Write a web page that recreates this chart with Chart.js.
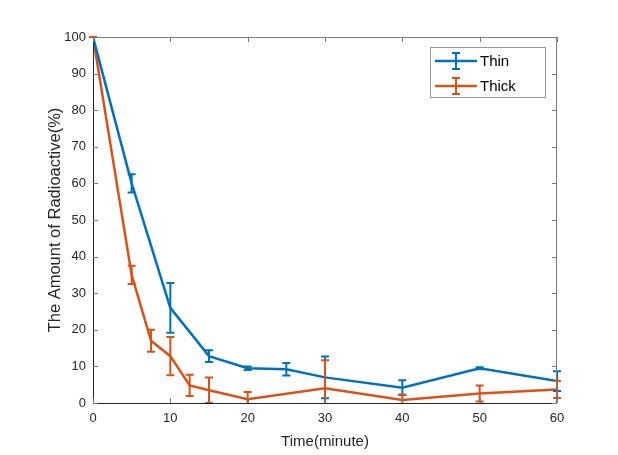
<!DOCTYPE html>
<html>
<head>
<meta charset="utf-8">
<script src="https://cdn.jsdelivr.net/npm/chart.js@4/dist/chart.umd.min.js"></script>
<style>
  html, body { margin: 0; padding: 0; background: #fff; }
  #wrap { width: 618px; height: 455px; }
</style>
</head>
<body>
<div id="wrap"><canvas id="chart" width="618" height="455"></canvas></div>
<script>
"use strict";

//=> Data
var thinTime = [0, 5, 10, 15, 20, 25, 30, 40, 50, 60];
var thinMean = [100, 60, 26, 12.8, 9.5, 9.2, 7, 4.2, 9.5, 6];
var thinErr = [0, 2.5, 6.8, 1.6, 0.5, 1.7, 5.7, 2, 0.3, 2.7];

var thickTime = [0, 5, 7.5, 10, 12.5, 15, 20, 30, 40, 50, 60];
var thickMean = [100, 35, 17, 12.8, 4.8, 3.5, 1, 4, 0.8, 2.6, 3.7];
var thickErr = [0, 2.5, 3, 5.2, 2.9, 3.5, 2, 7.7, 1.5, 2.2, 2.3];

var xTicks = [0, 10, 20, 30, 40, 50, 60];
var yTicks = [0, 10, 20, 30, 40, 50, 60, 70, 80, 90, 100];

var seriesNames = ['Thin', 'Thick'];
var blue = '#0072BD';
var orange = '#D95319';
var font = '"Liberation Sans", Arial, sans-serif';

function toPoints(xs, ys, es) {
    return xs.map(function (x, i) { return { x: x, y: ys[i], err: es[i] }; });
}

//=> Error bars, inward ticks, box, legend
var matlabPlugin = {
    id: 'matlab',
    afterDatasetsDraw: function (chart) {
        var ctx = chart.ctx, xs = chart.scales.x, ys = chart.scales.y, a = chart.chartArea;
        ctx.save();
        ctx.beginPath();
        ctx.rect(a.left - 5, a.top - 5, a.right - a.left + 10, a.bottom - a.top + 5);
        ctx.clip();
        chart.data.datasets.forEach(function (ds) {
            ctx.strokeStyle = ds.borderColor;
            ctx.lineWidth = 2;
            ds.data.forEach(function (p) {
                var px = xs.getPixelForValue(p.x);
                var top = ys.getPixelForValue(p.y + p.err);
                var bot = ys.getPixelForValue(p.y - p.err);
                ctx.beginPath();
                ctx.moveTo(px, top); ctx.lineTo(px, bot);
                ctx.moveTo(px - 4, top); ctx.lineTo(px + 4, top);
                ctx.moveTo(px - 4, bot); ctx.lineTo(px + 4, bot);
                ctx.stroke();
            });
        });
        ctx.restore();
    },
    afterDraw: function (chart) {
        var ctx = chart.ctx, xs = chart.scales.x, ys = chart.scales.y, a = chart.chartArea;
        ctx.save();
        ctx.lineWidth = 1;
        // box
        ctx.strokeStyle = '#262626';
        ctx.beginPath();
        ctx.moveTo(a.left + 0.5, a.top); ctx.lineTo(a.left + 0.5, a.bottom + 0.5); ctx.lineTo(a.right, a.bottom + 0.5);
        ctx.stroke();
        ctx.strokeStyle = '#7a7a7a';
        ctx.beginPath();
        ctx.moveTo(a.left, a.top + 0.5); ctx.lineTo(a.right - 0.5, a.top + 0.5); ctx.lineTo(a.right - 0.5, a.bottom);
        ctx.stroke();
        // inward ticks
        ctx.beginPath();
        xTicks.forEach(function (v) {
            var px = Math.round(xs.getPixelForValue(v)) + 0.5;
            ctx.moveTo(px, a.bottom); ctx.lineTo(px, a.bottom - 5);
            ctx.moveTo(px, a.top); ctx.lineTo(px, a.top + 5);
        });
        yTicks.forEach(function (v) {
            var py = Math.round(ys.getPixelForValue(v)) + 0.5;
            ctx.moveTo(a.left, py); ctx.lineTo(a.left + 5, py);
            ctx.moveTo(a.right, py); ctx.lineTo(a.right - 5, py);
        });
        ctx.stroke();
        // legend
        var lx = 430, ly = 47, lw = 115, lh = 50;
        ctx.fillStyle = '#fff';
        ctx.fillRect(lx, ly, lw, lh);
        ctx.strokeStyle = '#9a9a9a';
        ctx.strokeRect(lx + 0.5, ly + 0.5, lw, lh);
        chart.data.datasets.forEach(function (ds, i) {
            var cy = ly + 14 + i * 25;
            ctx.strokeStyle = ds.borderColor;
            ctx.lineWidth = 2.5;
            ctx.beginPath();
            ctx.moveTo(lx + 5, cy); ctx.lineTo(lx + 47, cy);
            ctx.stroke();
            ctx.lineWidth = 2;
            ctx.beginPath();
            ctx.moveTo(lx + 26, cy - 8); ctx.lineTo(lx + 26, cy + 8);
            ctx.moveTo(lx + 22, cy - 8); ctx.lineTo(lx + 30, cy - 8);
            ctx.moveTo(lx + 22, cy + 8); ctx.lineTo(lx + 30, cy + 8);
            ctx.stroke();
            ctx.fillStyle = '#000';
            ctx.font = '15px ' + font;
            ctx.textBaseline = 'middle';
            ctx.textAlign = 'left';
            ctx.fillText(ds.label, lx + 50, cy + 1);
        });
        ctx.restore();
    }
};

//=> Chart
var ctx = document.getElementById('chart').getContext('2d');
var myChart = new Chart(ctx, {
    type: 'line',
    data: {
        datasets: [{
            label: seriesNames[0],
            data: toPoints(thinTime, thinMean, thinErr),
            borderColor: blue,
            backgroundColor: blue,
            borderWidth: 2.5,
            pointRadius: 0,
            tension: 0
        }, {
            label: seriesNames[1],
            data: toPoints(thickTime, thickMean, thickErr),
            borderColor: orange,
            backgroundColor: orange,
            borderWidth: 2.5,
            pointRadius: 0,
            tension: 0
        }]
    },
    options: {
        responsive: false,
        animation: false,
        parsing: false,
        layout: { padding: { left: 42, top: 37, right: 61, bottom: 0 } },
        plugins: {
            legend: { display: false },
            tooltip: { enabled: false }
        },
        scales: {
            x: {
                type: 'linear',
                min: 0, max: 60,
                afterBuildTicks: function (s) { s.ticks = xTicks.map(function (v) { return { value: v }; }); },
                afterFit: function (s) { s.height = 52; },
                grid: { display: false, drawTicks: false },
                border: { display: false },
                ticks: { color: '#262626', font: { family: font, size: 13 }, padding: 8 },
                title: { display: true, text: 'Time(minute)', color: '#262626', font: { family: font, size: 15 }, padding: { top: 1 } }
            },
            y: {
                type: 'linear',
                min: 0, max: 100,
                afterBuildTicks: function (s) { s.ticks = yTicks.map(function (v) { return { value: v }; }); },
                afterFit: function (s) { s.width = 51; },
                grid: { display: false, drawTicks: false },
                border: { display: false },
                ticks: { color: '#262626', font: { family: font, size: 13 }, padding: 7 },
                title: { display: true, text: 'The Amount of Radioactive(%)', color: '#262626', font: { family: font, size: 16.5 }, padding: { bottom: 0 } }
            }
        }
    },
    plugins: [matlabPlugin]
});
</script>
</body>
</html>
